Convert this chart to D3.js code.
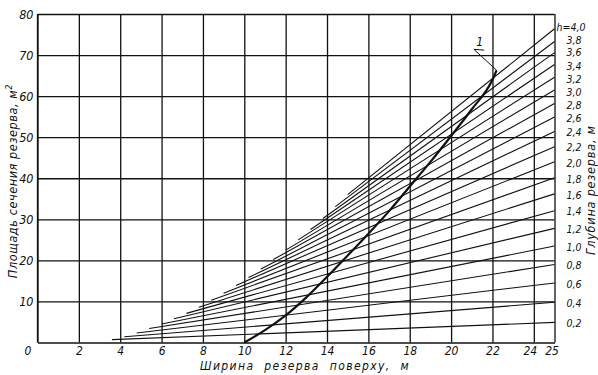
<!DOCTYPE html>
<html>
<head>
<meta charset="utf-8">
<script src="https://cdn.jsdelivr.net/npm/d3@7"></script>
<style>
  body { margin: 0; background: #fff; }
  svg { display: block; }
  text { font-family: "DejaVu Sans Condensed", "Liberation Sans Narrow", "DejaVu Sans", sans-serif; font-style: italic; fill: #111; }
  .axis path, .axis line { stroke: #111; stroke-width: 1.3; }
</style>
</head>
<body>
<div class="chart"></div>
<script>
// depths of the borrow pit, m (one line each)
var depths = [0.2, 0.4, 0.6, 0.8, 1.0, 1.2, 1.4, 1.6, 1.8, 2.0, 2.2, 2.4, 2.6, 2.8, 3.0, 3.2, 3.4, 3.6, 3.8, 4.0];
// where each line starts (top width, area) and the area it reaches at width 25
var startWidth = [3.6, 4.2, 4.8, 5.4, 6.0, 6.6, 7.2, 7.8, 8.4, 9.0, 9.6, 10.2, 10.8, 11.4, 12.0, 12.6, 13.2, 13.8, 14.4, 15.0];
var startArea  = [0.7, 1.4, 2.3, 3.4, 4.5, 5.8, 7.1, 8.6, 10.3, 12.0, 13.9, 15.8, 17.9, 20.2, 22.5, 25.0, 27.5, 30.2, 33.1, 36.0];
var endArea    = [4.9, 9.8, 14.5, 19.0, 23.5, 27.8, 32.1, 36.2, 40.1, 44.0, 47.7, 51.4, 54.9, 58.2, 61.5, 64.6, 67.7, 70.6, 73.3, 76.4];
var endWidth = 25;

// curve 1
var curveWidth = [10, 11, 12, 13, 14, 15, 16, 17, 18, 19, 20, 21, 22, 22.2];
var curveArea  = [0, 3.0, 6.6, 11.0, 16.0, 21.2, 26.5, 32.0, 38.0, 44.0, 50.3, 56.8, 64.0, 66.3];

var xTicks = [0, 2, 4, 6, 8, 10, 12, 14, 16, 18, 20, 22, 24, 25];
var yTicks = [10, 20, 30, 40, 50, 60, 70, 80];

var W = 598, H = 375;
var margin = {top: 14, right: 43.5, bottom: 32.5, left: 37.5},
    width = W - margin.left - margin.right,
    height = H - margin.top - margin.bottom;

var svg = d3.select(".chart").append("svg")
    .attr("width", W).attr("height", H)
    .attr("viewBox", `0 0 ${W} ${H}`);
svg.append("rect").attr("width", W).attr("height", H).attr("fill", "#fff");

var g = svg.append("g")
    .attr("transform", "translate(" + margin.left + "," + margin.top + ")");

var x = d3.scaleLinear().domain([0, 25]).range([0, width]);
var y = d3.scaleLinear().domain([0, 80]).range([height, 0]);

// grid + axes
var xAxis = g.append("g").attr("class", "axis")
    .attr("transform", "translate(0," + height + ")")
    .call(d3.axisBottom(x).tickValues(xTicks).tickSize(-height).tickSizeOuter(0).tickPadding(4)
        .tickFormat(d3.format("d")));
xAxis.selectAll("text").style("font-size", "12px")
    .attr("dx", function(d) { return d === 0 ? -10 : d === 24 ? -4 : d === 25 ? -3 : 0; });

var yAxis = g.append("g").attr("class", "axis")
    .call(d3.axisLeft(y).tickValues(yTicks).tickSize(-width).tickSizeOuter(0).tickPadding(4)
        .tickFormat(d3.format("d")));
yAxis.selectAll("text").style("font-size", "12.5px");
yAxis.select(".domain").remove();
g.append("line").attr("x1", 0).attr("x2", 0).attr("y1", 0).attr("y2", height)
    .attr("stroke", "#111").attr("stroke-width", 1.3);

// depth lines
var rows = depths.map(function(h, i) {
    return {h: h, x0: startWidth[i], y0: startArea[i], y1: endArea[i]};
});

g.selectAll(".depth")
  .data(rows).enter()
  .append("line")
    .attr("class", "depth")
    .attr("x1", d => x(d.x0)).attr("y1", d => y(d.y0))
    .attr("x2", x(endWidth)).attr("y2", d => y(d.y1))
    .attr("stroke", "#111").attr("stroke-width", 1.1);

// labels at the right end, the crowded top ones nudged apart a little
function nudge(h) {
    if (h === 4) return -1;
    if (h === 3.8) return -1.5;
    if (h === 3.6) return 0;
    if (h >= 2.8 && h <= 3.4) return 2;
    return 1;
}
g.selectAll(".dlab")
  .data(rows).enter()
  .append("text")
    .attr("class", "dlab")
    .attr("x", d => d.h === 4 ? x(endWidth) + 2 : x(endWidth) + 12)
    .attr("y", d => y(d.y1) + nudge(d.h))
    .attr("dy", "0.35em")
    .style("font-size", "10.5px")
    .text(d => (d.h === 4 ? "h=" : "") + d.h.toFixed(1).replace(".", ","));

// curve 1
var line = d3.line().x(d => x(d[0])).y(d => y(d[1])).curve(d3.curveMonotoneX);
g.append("path")
    .datum(curveWidth.map((w, i) => [w, curveArea[i]]))
    .attr("d", line)
    .attr("fill", "none").attr("stroke", "#111").attr("stroke-width", 2.2);

// leader + "1"
g.append("path")
    .attr("d", d3.line()([[x(22.2), y(66.3)], [x(21.1), y(71.4)], [x(21.6), y(71.2)]]))
    .attr("fill", "none").attr("stroke", "#111").attr("stroke-width", 1);
g.append("text").attr("x", x(21.38)).attr("y", y(72.2))
    .attr("text-anchor", "middle").style("font-size", "12px").text("1");

// axis titles
svg.append("text")
    .attr("transform", "translate(17,181) rotate(-90)")
    .attr("text-anchor", "middle")
    .style("font-size", "12.5px").style("letter-spacing", "0.6px")
    .html("Площадь сечения резерва, м<tspan dy='-5' font-size='9px'>2</tspan>");

svg.append("text")
    .attr("x", 305).attr("y", 370)
    .attr("text-anchor", "middle")
    .style("font-size", "12px").style("letter-spacing", "1.4px").style("word-spacing", "5px")
    .text("Ширина резерва поверху, м");

svg.append("text")
    .attr("transform", "translate(595,190) rotate(-90)")
    .attr("text-anchor", "middle")
    .style("font-size", "12.5px").style("letter-spacing", "0.8px")
    .text("Глубина резерва, м");
</script>
</body>
</html>
